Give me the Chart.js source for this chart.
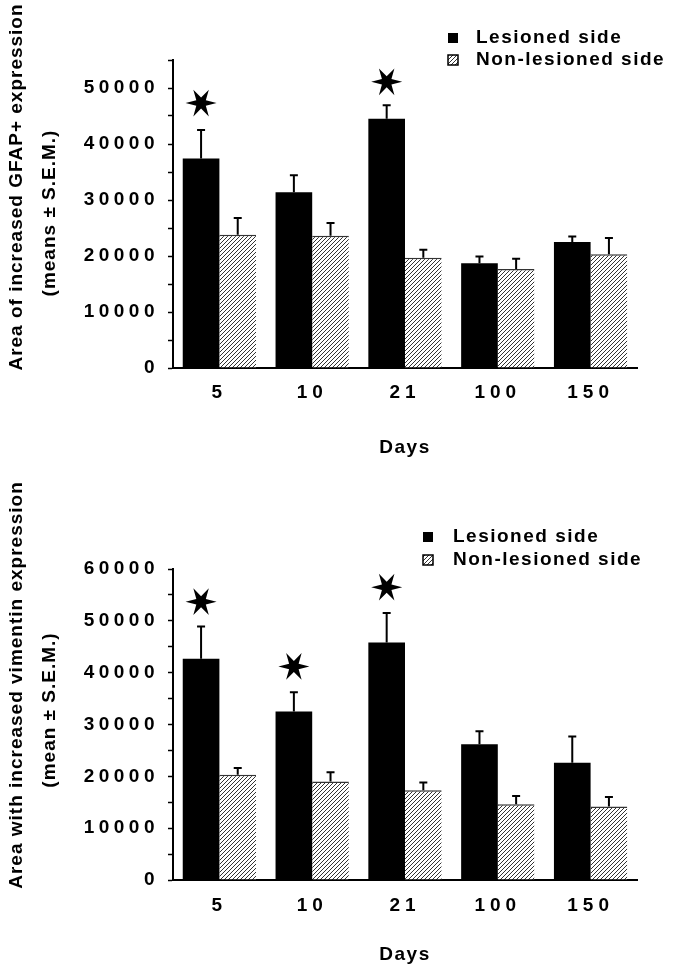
<!DOCTYPE html>
<html>
<head>
<meta charset="utf-8">
<script src="https://cdn.jsdelivr.net/npm/chart.js@4.4.0/dist/chart.umd.min.js"></script>
<style>
  body { margin: 0; background: #fff; }
  canvas { display: block; }
</style>
</head>
<body>
<canvas id="gfap" width="673" height="480"></canvas>
<canvas id="vim" width="673" height="499"></canvas>
<script>
// days after lesion
var days = ['5', '10', '21', '100', '150'];
var seriesNames = ['Lesioned side', 'Non-lesioned side'];

// GFAP (top panel)
var gfapLesioned = [37400, 31400, 44500, 18700, 22500];
var gfapLesionedSem = [5100, 3000, 2400, 1200, 1000];
var gfapNonLesioned = [23800, 23600, 19700, 17700, 20300];
var gfapNonLesionedSem = [3000, 2300, 1400, 1800, 2900];
var gfapStars = [47300, null, 51100, null, null];

// vimentin (bottom panel)
var vimLesioned = [42700, 32500, 45800, 26200, 22600];
var vimLesionedSem = [6200, 3700, 5700, 2500, 5100];
var vimNonLesioned = [20300, 19000, 17300, 14600, 14200];
var vimNonLesionedSem = [1300, 1800, 1500, 1600, 1800];
var vimStars = [53700, 41200, 56500, null, null];

var gfapMax = 55000;
var vimMax = 60000;
var tickStep = 5000;
var labelStep = 10000;

Chart.defaults.font.family = '"Liberation Sans", Arial, sans-serif';
Chart.defaults.color = '#000';

function hatch() {
  var c = document.createElement('canvas');
  c.width = 4; c.height = 4;
  var g = c.getContext('2d');
  g.fillStyle = '#fff';
  g.fillRect(0, 0, 4, 4);
  g.strokeStyle = '#333';
  g.lineWidth = 1;
  g.beginPath();
  g.moveTo(0, 4); g.lineTo(4, 0);
  g.moveTo(-1, 1); g.lineTo(1, -1);
  g.moveTo(3, 5); g.lineTo(5, 3);
  g.stroke();
  return g.createPattern(c, 'repeat');
}
var hatchFill = hatch();

function drawStar(ctx, x, y, R, r) {
  ctx.beginPath();
  for (var k = 0; k < 12; k++) {
    var a = k * Math.PI / 6;
    var rad = k % 2 ? r : R;
    ctx.lineTo(x + rad * Math.cos(a), y - rad * Math.sin(a));
  }
  ctx.closePath();
  ctx.fill();
}

// wrap a scale method so its text is drawn letter spaced
function spaced(obj, name, sp) {
  if (obj['_sp_' + name]) return;
  var orig = obj[name];
  obj['_sp_' + name] = true;
  obj[name] = function() {
    this.ctx.save();
    this.ctx.letterSpacing = sp;
    orig.apply(this, arguments);
    this.ctx.restore();
  };
}

var extras = {
  id: 'extras',
  afterLayout: function(chart) {
    spaced(chart.scales.x, 'drawLabels', '5px');
    spaced(chart.scales.y, 'drawLabels', '4.5px');
    spaced(chart.scales.x, 'drawTitle', '1.5px');
  },
  afterDatasetsDraw: function(chart, args, opts) {
    var ctx = chart.ctx, y = chart.scales.y;
    ctx.save();
    ctx.strokeStyle = '#000';
    ctx.lineWidth = 2;
    chart.data.datasets.forEach(function(ds, i) {
      chart.getDatasetMeta(i).data.forEach(function(bar, j) {
        var top = y.getPixelForValue(ds.data[j] + ds.sem[j]);
        ctx.beginPath();
        ctx.moveTo(bar.x, bar.y);
        ctx.lineTo(bar.x, top);
        ctx.moveTo(bar.x - 4, top);
        ctx.lineTo(bar.x + 4, top);
        ctx.stroke();
      });
    });
    ctx.fillStyle = '#000';
    var meta = chart.getDatasetMeta(0);
    opts.stars.forEach(function(v, j) {
      if (v == null) return;
      drawStar(ctx, meta.data[j].x, y.getPixelForValue(v), 15.5, 5.5);
    });
    ctx.restore();
  },
  afterDraw: function(chart, args, opts) {
    var ctx = chart.ctx;
    ctx.save();
    ctx.fillStyle = '#000';
    ctx.textBaseline = 'middle';
    // legend
    ctx.font = 'bold 19px "Liberation Sans", Arial, sans-serif';
    ctx.letterSpacing = '1.5px';
    chart.data.datasets.forEach(function(ds, i) {
      var ly = opts.legend.rows[i];
      ctx.fillStyle = ds.backgroundColor;
      ctx.fillRect(opts.legend.box - 5, ly - 5, 10, 10);
      if (i > 0) {
        ctx.strokeStyle = '#000';
        ctx.lineWidth = 1.5;
        ctx.strokeRect(opts.legend.box - 5, ly - 5, 10, 10);
      }
      ctx.fillStyle = '#000';
      ctx.textAlign = 'left';
      ctx.fillText(ds.label, opts.legend.text, ly);
    });
    // rotated y axis title
    ctx.font = 'bold 19px "Liberation Sans", Arial, sans-serif';
    ctx.letterSpacing = '1px';
    ctx.textAlign = 'center';
    opts.yTitle.forEach(function(t) {
      ctx.save();
      ctx.translate(t.x, t.y);
      ctx.rotate(-Math.PI / 2);
      ctx.fillText(t.text, 0, 0);
      ctx.restore();
    });
    ctx.restore();
  }
};

function makeChart(id, lesioned, lesionedSem, non, nonSem, stars, yMax, pad, xHeight, tickPad, yTitle, legend) {
  return new Chart(document.getElementById(id), {
    type: 'bar',
    data: {
      labels: days,
      datasets: [
        { label: seriesNames[0], data: lesioned, sem: lesionedSem,
          backgroundColor: '#000', borderWidth: 0 },
        { label: seriesNames[1], data: non, sem: nonSem,
          backgroundColor: hatchFill, borderColor: '#333',
          borderWidth: { top: 1.5, left: 0, right: 0, bottom: 0 } }
      ]
    },
    options: {
      responsive: false,
      animation: false,
      devicePixelRatio: 1,
      categoryPercentage: 0.79,
      barPercentage: 1.0,
      layout: { padding: pad },
      plugins: {
        legend: { display: false },
        tooltip: { enabled: false },
        extras: { stars: stars, yTitle: yTitle, legend: legend }
      },
      scales: {
        x: {
          grid: { display: false, drawTicks: false },
          border: { display: true, color: '#000', width: 2 },
          ticks: { padding: tickPad, font: { size: 19, weight: 'bold' }, color: '#000' },
          title: { display: true, text: 'Days', color: '#000',
                   font: { size: 19, weight: 'bold' }, padding: { top: 0, bottom: 9 } },
          afterFit: function(s) { s.height = xHeight; }
        },
        y: {
          min: 0,
          max: yMax,
          grid: { display: true, drawOnChartArea: false, drawTicks: true,
                  tickLength: 5, tickColor: '#000', tickWidth: 1.5 },
          border: { display: true, color: '#000', width: 2 },
          ticks: {
            stepSize: tickStep,
            autoSkip: false,
            padding: 9,
            color: '#000',
            font: { size: 19, weight: 'bold' },
            callback: function(v) { return v % labelStep === 0 ? String(v) : ''; }
          },
          afterFit: function(s) { s.width = 173; }
        }
      }
    },
    plugins: [extras]
  });
}

makeChart('gfap', gfapLesioned, gfapLesionedSem, gfapNonLesioned, gfapNonLesionedSem, gfapStars,
  gfapMax, { top: 60, right: 36, bottom: 12, left: 0 }, 100, 13,
  [ { text: 'Area of increased GFAP+ expression', x: 17, y: 187 },
    { text: '(means \u00b1 S.E.M.)', x: 50, y: 213 } ],
  { box: 453, text: 476, rows: [38, 60] });

makeChart('vim', vimLesioned, vimLesionedSem, vimNonLesioned, vimNonLesionedSem, vimStars,
  vimMax, { top: 89, right: 36, bottom: 4, left: 0 }, 95, 14,
  [ { text: 'Area with increased vimentin expression', x: 17, y: 205 },
    { text: '(mean \u00b1 S.E.M.)', x: 50, y: 230 } ],
  { box: 428, text: 453, rows: [57, 80] });
</script>
</body>
</html>
